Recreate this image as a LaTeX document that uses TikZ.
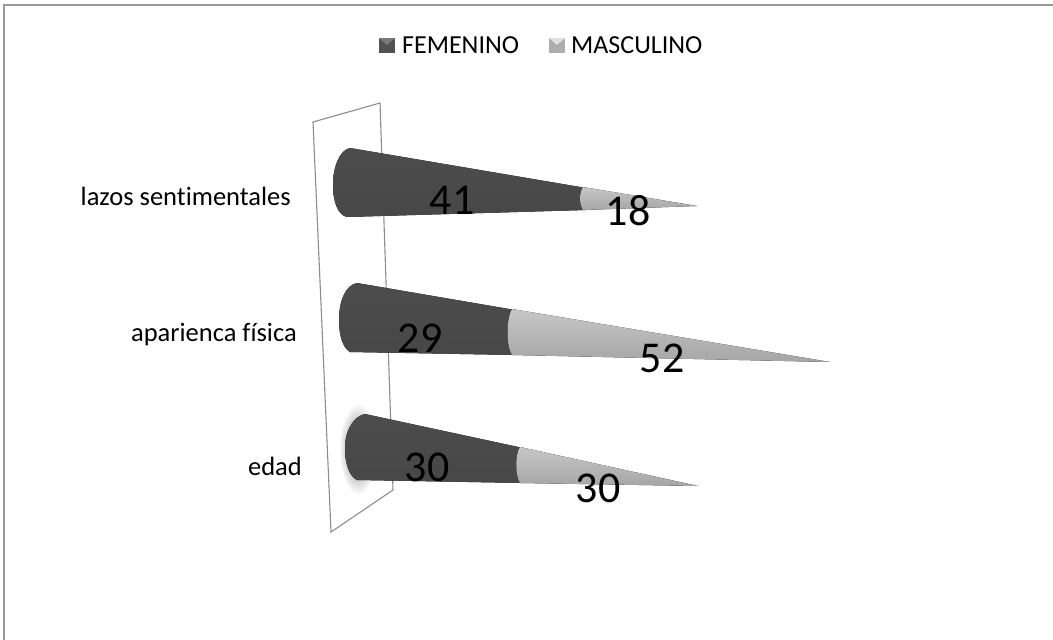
\documentclass[tikz,border=0pt]{standalone}
\usepackage{fontspec}
\setmainfont{Carlito}[Ligatures=CommonOff]

\tikzset{
  catlabel/.style={font=\fontsize{26.5}{30}\selectfont, anchor=east, inner sep=0pt},
  vallabel/.style={font=\fontsize{44}{48}\selectfont, inner sep=0pt},
  legtext/.style={font=\fontsize{26}{30}\selectfont, anchor=west, inner sep=0pt},
  femcone/.style={top color=black!70, middle color=black!52, bottom color=black!72},
  mascone/.style={top color=black!22, middle color=black!10, bottom color=black!35},
  wall/.style={draw=black!45, line width=1.1pt}
}

\begin{document}
\begin{tikzpicture}[x=1pt,y=-1pt]
    \useasboundingbox (0,0) rectangle (1053,640);
    % frame
    \draw [black!40, line width=2pt] (4,645) -- (4,5) -- (1060,5);

    % legend
    \fill [black!68] (379,38) rectangle (395,53);
    \fill [black!52] (379,38) -- (395,38) -- (387,45) -- cycle;
    \node (femleg) [legtext] at (402,45) {FEMENINO};
    \fill [black!32] (549,38) rectangle (565,53);
    \fill [black!12] (549,38) -- (565,38) -- (557,45) -- cycle;
    \node (masleg) [legtext] at (571,45) {MASCULINO};

    % glow behind the base of the lowest cone
    \shade [inner color=black!55, outer color=white] (358,449) ellipse (19 and 46);

    % back wall
    \draw [wall] (313,122) -- (380,103) -- (393,490) -- (331,532) -- cycle;

    % lazos sentimentales
    \fill [femcone] (350,148) -- (586,188) -- (586,210)
      -- (347,217) .. controls (338,215) and (333,202) .. (333,185)
      .. controls (333,166) and (340,150) .. (350,148);
    \fill [mascone] (583,187) -- (697,206) -- (583,210)
      .. controls (579,204) and (579,193) .. (583,187);

    % aparienca fisica
    \fill [femcone] (357,283) -- (515,310) -- (515,355)
      -- (350,352) .. controls (343,348) and (339,336) .. (339,320)
      .. controls (339,300) and (346,285) .. (357,283);
    \fill [mascone] (512,309) -- (830,362) -- (512,355)
      .. controls (506,345) and (506,320) .. (512,309);

    % edad
    \fill [femcone] (365,414) -- (523,448) -- (523,483)
      -- (357,480) .. controls (350,477) and (345,465) .. (345,448)
      .. controls (345,430) and (354,416) .. (365,414);
    \fill [mascone] (520,447) -- (698,486) -- (520,483)
      .. controls (515,475) and (515,455) .. (520,447);

    % categories
    \node (lazos) [catlabel] at (291,196) {lazos sentimentales};
    \node (apar) [catlabel] at (297,335) {aparienca física};
    \node (edad) [catlabel] at (302,466) {edad};

    % values
    \node (fem1) [vallabel] at (452,200) {41};
    \node (mas1) [vallabel] at (628,211) {18};
    \node (fem2) [vallabel] at (420,338) {29};
    \node (mas2) [vallabel] at (662,358) {52};
    \node (fem3) [vallabel] at (427,467) {30};
    \node (mas3) [vallabel] at (598,488) {30};
  \end{tikzpicture}
\end{document}
